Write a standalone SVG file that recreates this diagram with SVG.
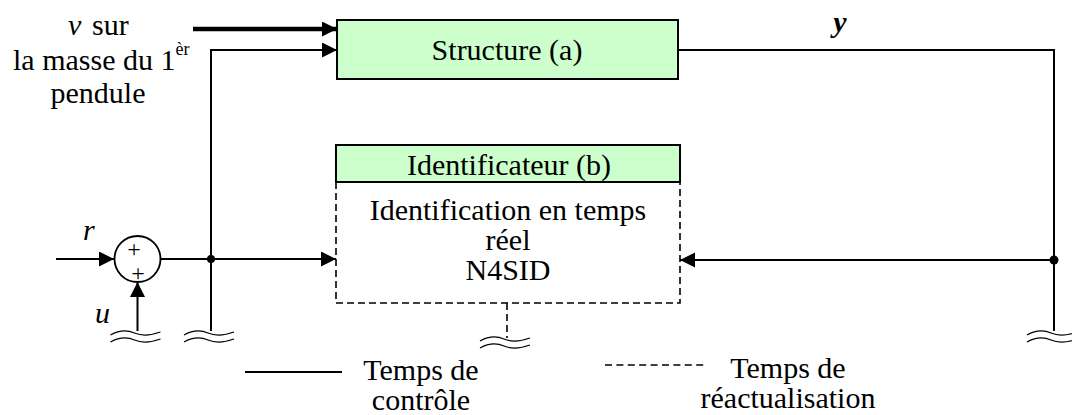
<svg xmlns="http://www.w3.org/2000/svg" width="1072" height="415" viewBox="0 0 1072 415">
<style>
text{font-family:"Liberation Serif","Times New Roman",serif;font-size:30px;fill:#000}
.m{text-anchor:middle}
.i{font-style:italic}
.ln{fill:none;stroke:#000;stroke-width:2}
.dash{fill:none;stroke:#000;stroke-width:1.6;stroke-dasharray:7 4}
.box{fill:#ccffcc;stroke:#000;stroke-width:2}
.hatch{fill:none;stroke:#000;stroke-width:1.3}
.pl{font-size:24px}
</style>
<defs>
<marker id="ah" markerUnits="userSpaceOnUse" markerWidth="16" markerHeight="16" refX="15" refY="7.5" orient="auto">
<path d="M0,0 L15,7.5 L0,15 z" fill="#000"/>
</marker>
<g id="hz">
<path class="hatch" d="M-27,2 C-18,-3 -10,-3 -3,0 C4,3 12,3 23,-1"/>
<path class="hatch" d="M-27,9 C-18,4 -10,4 -3,7 C4,10 12,10 23,6"/>
</g>
</defs>
<g id="structure">
<rect class="box" x="337" y="20" width="341" height="59"/>
<text class="m" x="507" y="60">Structure (a)</text>
</g>
<g id="identificateur">
<rect class="box" x="336" y="145" width="344" height="37"/>
<text class="m" x="509" y="175">Identificateur (b)</text>
<path class="dash" d="M336,182 V303 H680 V182"/>
<text class="m" x="508" y="220">Identification en temps</text>
<text class="m" x="508" y="250">réel</text>
<text class="m" x="508" y="280">N4SID</text>
</g>
<g id="sommateur">
<circle cx="137.5" cy="259" r="23" fill="#fff" stroke="#000" stroke-width="1.8"/>
<text class="m pl" x="134" y="257">+</text>
<text class="m pl" x="138" y="281">+</text>
</g>
<g id="labels">
<text x="68" y="35"><tspan class="i">v</tspan><tspan x="92">sur</tspan></text>
<text x="13" y="70">la masse du 1<tspan style="font-size:18px" dy="-15">èr</tspan></text>
<text class="m" x="98" y="103">pendule</text>
<text class="m" x="840" y="32" style="font-weight:bold;font-style:italic">y</text>
<text class="i" x="83" y="240">r</text>
<text class="i" x="95" y="323">u</text>
</g>
<g id="connectors">
<line x1="193" y1="29" x2="337" y2="29" stroke="#000" stroke-width="4.5" marker-end="url(#ah)"/>
<path class="ln" d="M211,331 V50 H337" marker-end="url(#ah)"/>
<line class="ln" x1="56" y1="259" x2="114" y2="259" marker-end="url(#ah)"/>
<line class="ln" x1="137.5" y1="331" x2="137.5" y2="282" marker-end="url(#ah)"/>
<line class="ln" x1="160.5" y1="259" x2="336" y2="259" marker-end="url(#ah)"/>
<circle cx="211" cy="259" r="4" fill="#000"/>
<path class="ln" d="M678,50 H1054 V331"/>
<line class="ln" x1="1054" y1="260" x2="680" y2="260" marker-end="url(#ah)"/>
<circle cx="1054" cy="260" r="4.5" fill="#000"/>
<line class="dash" x1="507" y1="303" x2="507" y2="338"/>
<use href="#hz" x="137.5" y="333"/>
<use href="#hz" x="211" y="333"/>
<use href="#hz" x="507" y="339"/>
<use href="#hz" x="1054" y="333"/>
</g>
<g id="legende">
<line x1="245" y1="372" x2="342" y2="372" stroke="#000" stroke-width="2"/>
<text class="m" x="421" y="380">Temps de</text>
<text class="m" x="421" y="410">contrôle</text>
<line x1="605" y1="365" x2="707" y2="365" stroke="#000" stroke-width="1.4" stroke-dasharray="7 4.4"/>
<text class="m" x="788" y="378">Temps de</text>
<text class="m" x="788" y="408">réactualisation</text>
</g>
</svg>
